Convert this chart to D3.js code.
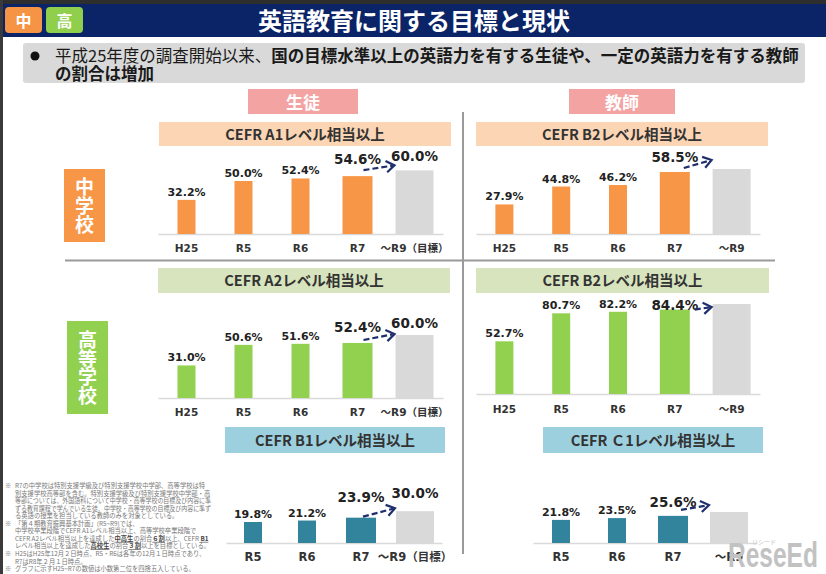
<!DOCTYPE html>
<html>
<head>
<meta charset="utf-8">
<script src="https://cdn.jsdelivr.net/npm/d3@7"></script>
<style>
  body { margin: 0; background: #fff; }
  svg { display: block; font-family: "Noto Sans CJK JP", "Noto Sans", sans-serif; }
</style>
</head>
<body>
<script>
// categories (x axis)
var jhsCats = ['H25', 'R5', 'R6', 'R7', '～R9（目標）'];
var teacherCats = ['H25', 'R5', 'R6', 'R7', '～R9'];
var b1Cats = ['R5', 'R6', 'R7', '～R9（目標）'];
var c1Cats = ['R5', 'R6', 'R7', '～R9'];

// values in % (last one is the target bar, grey)
var jhsStudentA1 = [32.2, 50.0, 52.4, 54.6, 60.0];
var jhsTeacherB2 = [27.9, 44.8, 46.2, 58.5, 61.3];
var hsStudentA2 = [31.0, 50.6, 51.6, 52.4, 60.0];
var hsTeacherB2 = [52.7, 80.7, 82.2, 84.4, 90.0];
var hsStudentB1 = [19.8, 21.2, 23.9, 30.0];
var hsTeacherC1 = [21.8, 23.5, 25.6, 29.2];

var titles = ['CEFR A1レベル相当以上', 'CEFR B2レベル相当以上', 'CEFR A2レベル相当以上',
  'CEFR B2レベル相当以上', 'CEFR B1レベル相当以上', 'CEFR Ｃ1レベル相当以上'];

var notes = [
  ['※', 'R7の中学校は特別支援学級及び特別支援学校中学部、高等学校は特'],
  ['', '別支援学校高等部を含む。特別支援学級及び特別支援学校中学部・高'],
  ['', '等部については、外国語科について中学校・高等学校の目標及び内容に準'],
  ['', 'ずる教育課程で学んでいる生徒、中学校・高等学校の目標及び内容に準ず'],
  ['', 'る英語の授業を担当している教師のみを対象としている。'],
  ['※', '「第４期教育振興基本計画」(R5~R9)では、'],
  ['', '中学校卒業段階でCEFR A1レベル相当以上、高等学校卒業段階で'],
  ['', 'CEFR A2レベル相当以上を達成した[中高生]の割合[６割]以上、CEFR [B1]'],
  ['', 'レベル相当以上を達成した[高校生]の割合[３割]以上を目標としている。'],
  ['※', 'H25はH25年12月２日時点、R5・R6は各年の12月１日時点であり、'],
  ['', 'R7はR8年２月１日時点。'],
  ['※', 'グラフに示すH25~R7の数値は小数第二位を四捨五入している。']
];

var ORANGE = '#f79646', GREEN = '#92d050', TEAL = '#31849b', GREY = '#d9d9d9';
var W = 826, H = 574;

var svg = d3.select('body').append('svg')
  .attr('width', W)
  .attr('height', H);

svg.append('rect').attr('width', W).attr('height', H).attr('fill', '#fff');

// header
svg.append('rect').attr('x', 0).attr('y', 0).attr('width', W).attr('height', 5).attr('fill', '#2e2e2e');
svg.append('rect').attr('x', 0).attr('y', 4).attr('width', W).attr('height', 33).attr('fill', '#0b2467');
svg.append('rect').attr('x', 0).attr('y', 0).attr('width', 3).attr('height', H).attr('fill', '#3a3a3a');

[['中', 5, '#f59445'], ['高', 46, '#8fcf4c']].forEach(function(b) {
  svg.append('rect').attr('x', b[1]).attr('y', 7).attr('width', 37).attr('height', 26)
    .attr('rx', 4).attr('fill', b[2]);
  svg.append('text').attr('x', b[1] + 18.5).attr('y', 27)
    .attr('text-anchor', 'middle').attr('font-size', 16).attr('font-weight', 700)
    .attr('fill', '#fff').text(b[0]);
});

svg.append('text')
  .attr('x', 414).attr('y', 30)
  .attr('text-anchor', 'middle')
  .attr('font-size', 24).attr('font-weight', 700)
  .attr('fill', '#fff')
  .text('英語教育に関する目標と現状');

// summary bullet
svg.append('rect').attr('x', 23).attr('y', 43).attr('width', 782).attr('height', 40)
  .attr('rx', 3).attr('fill', '#d9d9d9');
svg.append('circle').attr('cx', 35).attr('cy', 56).attr('r', 4.5).attr('fill', '#111');
var summary = svg.append('text').attr('font-size', 16.5).attr('fill', '#1a1a1a');
summary.append('tspan').attr('x', 55).attr('y', 62).attr('font-weight', 400).text('平成25年度の調査開始以来、');
summary.append('tspan').attr('font-weight', 700).text('国の目標水準以上の英語力を有する生徒や、一定の英語力を有する教師');
summary.append('tspan').attr('x', 55).attr('y', 80).attr('font-weight', 700).text('の割合は増加');

// group labels
[['生徒', 248, 110], ['教師', 569, 106]].forEach(function(b) {
  svg.append('rect').attr('x', b[1]).attr('y', 89).attr('width', b[2]).attr('height', 25).attr('fill', '#f4a3a3');
  svg.append('text').attr('x', b[1] + b[2] / 2).attr('y', 109)
    .attr('text-anchor', 'middle').attr('font-size', 17).attr('font-weight', 700)
    .attr('fill', '#fff').text(b[0]);
});

// school labels, written vertically
[['中学校', 64, 169, 73, ORANGE], ['高等学校', 67, 321, 93, GREEN]].forEach(function(b) {
  svg.append('rect').attr('x', b[1]).attr('y', b[2]).attr('width', 41).attr('height', b[3]).attr('fill', b[4]);
  svg.append('text')
    .attr('x', b[1] + 20.5).attr('y', b[2] + b[3] / 2)
    .style('writing-mode', 'vertical-rl')
    .attr('text-anchor', 'middle')
    .attr('font-size', 19).attr('font-weight', 700)
    .attr('letter-spacing', -0.3)
    .attr('fill', '#fff')
    .text(b[0]);
});

// dividers
svg.append('line').attr('x1', 65).attr('x2', 775).attr('y1', 260.5).attr('y2', 260.5)
  .attr('stroke', '#9a9a9a').attr('stroke-width', 2);
svg.append('line').attr('x1', 463).attr('x2', 463).attr('y1', 112).attr('y2', 554)
  .attr('stroke', '#9a9a9a').attr('stroke-width', 2);

var panels = [
  { cats: jhsCats, vals: jhsStudentA1, showLast: true, color: ORANGE, band: '#fcd5b4',
    box: [159, 122, 292, 24], x: [158, 443], base: 234, k: 1.06, gap: [12, 9], pad: 11,
    arrow: [-9, -6, -5] },
  { cats: teacherCats, vals: jhsTeacherB2, showLast: false, color: ORANGE, band: '#fcd5b4',
    box: [476, 122, 292, 24], x: [476, 760], base: 234, k: 1.06, gap: [10, 9], pad: 11,
    arrow: [-6, -4, -9] },
  { cats: jhsCats, vals: hsStudentA2, showLast: true, color: GREEN, band: '#d7e4bd',
    box: [158, 268, 292, 25], x: [158, 443], base: 398, k: 1.05, gap: [11, 7], pad: 11,
    arrow: [-9, -3, -1] },
  { cats: teacherCats, vals: hsTeacherB2, showLast: false, color: GREEN, band: '#d7e4bd',
    box: [476, 268, 293, 25], x: [476, 760], base: 394, k: 1.0, gap: [0, 0], pad: 12,
    arrow: [5, 0, 3] },
  { cats: b1Cats, vals: hsStudentB1, showLast: true, color: TEAL, band: '#9dd0df',
    box: [225, 427, 220, 26], x: [226, 442], base: 543, k: 1.06, gap: [16, 13], pad: 10,
    arrow: [-13, -1, -3] },
  { cats: c1Cats, vals: hsTeacherC1, showLast: false, color: TEAL, band: '#9dd0df',
    box: [543, 427, 220, 26], x: [533, 757], base: 543, k: 1.06, gap: [9, 0], pad: 10,
    arrow: [-7, -6, -7] }
];

function barWidth(i, n) {
  if (i === n - 1) return 38;
  if (i === n - 2) return 30;
  return 18;
}

panels.forEach(function(p, pi) {
  var g = svg.append('g');
  var n = p.cats.length;

  // title band
  g.append('rect')
    .attr('x', p.box[0]).attr('y', p.box[1])
    .attr('width', p.box[2]).attr('height', p.box[3])
    .attr('fill', p.band);
  g.append('text')
    .attr('x', p.box[0] + p.box[2] / 2)
    .attr('y', p.box[1] + p.box[3] / 2 + 5.5)
    .attr('text-anchor', 'middle')
    .attr('font-size', 14.5).attr('font-weight', 700)
    .attr('fill', '#333')
    .text(titles[pi]);

  var xScale = d3.scaleBand().domain(p.cats).range(p.x);
  var yScale = d3.scaleLinear().domain([0, 100]).range([p.base, p.base - 100 * p.k]);

  var axis = d3.axisBottom(xScale).tickSize(0).tickSizeOuter(0).tickPadding(p.pad);
  var ax = g.append('g')
    .attr('transform', 'translate(0,' + p.base + ')')
    .call(axis);
  ax.select('.domain').attr('stroke', '#d9d9d9').attr('stroke-width', 1.5);
  ax.selectAll('text')
    .attr('font-family', '"DejaVu Sans", "Noto Sans CJK JP", sans-serif')
    .attr('font-size', pi >= 4 ? 11.5 : 10.5)
    .attr('font-weight', 700)
    .attr('fill', '#333');

  var cx = function(d, i) { return xScale(p.cats[i]) + xScale.bandwidth() / 2; };

  g.selectAll('rect.bar')
    .data(p.vals)
    .enter()
    .append('rect')
    .attr('class', 'bar')
    .attr('x', function(d, i) { return cx(d, i) - barWidth(i, n) / 2; })
    .attr('y', function(d) { return yScale(d); })
    .attr('width', function(d, i) { return barWidth(i, n); })
    .attr('height', function(d) { return p.base - yScale(d); })
    .attr('fill', function(d, i) { return i === n - 1 ? GREY : p.color; });

  g.selectAll('text.val')
    .data(p.vals)
    .enter()
    .filter(function(d, i) { return p.showLast || i < n - 1; })
    .append('text')
    .attr('class', 'val')
    .attr('x', function(d, i) { return cx(d, i); })
    .attr('y', function(d, i) {
      return i >= n - 2 ? yScale(d) - p.gap[i - (n - 2)] : yScale(d) - 4;
    })
    .attr('text-anchor', 'middle')
    .attr('font-family', '"DejaVu Sans", sans-serif')
    .attr('font-weight', 700)
    .attr('font-size', function(d, i) { return i >= n - 2 ? 13.5 : 11; })
    .attr('fill', '#222')
    .text(function(d) { return d3.format('.1f')(d) + '%'; });

  // dashed arrow from latest value to target
  var r7 = n - 2, r9 = n - 1;
  var x1 = cx(null, r7) + barWidth(r7, n) / 2 + p.arrow[0];
  var y1 = yScale(p.vals[r7]) + p.arrow[1];
  var x2 = cx(null, r9) - barWidth(r9, n) / 2 - 1;
  var y2 = yScale(p.vals[r9]) + p.arrow[2];
  var ang = Math.atan2(y2 - y1, x2 - x1);
  g.append('line')
    .attr('x1', x1).attr('y1', y1).attr('x2', x2 - 2 * Math.cos(ang)).attr('y2', y2 - 2 * Math.sin(ang))
    .attr('stroke', '#1f2f6e').attr('stroke-width', 2.2).attr('stroke-dasharray', '6,3');
  var hl = 10, spread = 0.6;
  g.append('path')
    .attr('d', 'M' + (x2 - hl * Math.cos(ang - spread)) + ',' + (y2 - hl * Math.sin(ang - spread)) +
      'L' + x2 + ',' + y2 +
      'L' + (x2 - hl * Math.cos(ang + spread)) + ',' + (y2 - hl * Math.sin(ang + spread)))
    .attr('fill', 'none').attr('stroke', '#1f2f6e').attr('stroke-width', 2.2)
    .attr('stroke-linejoin', 'miter');
});

// footnotes: one text block, one tspan per line
var noteText = svg.append('text').attr('font-size', 6.3).attr('fill', '#777');
notes.forEach(function(nt, i) {
  var y = 488 + i * 7.55;
  if (nt[0]) {
    noteText.append('tspan').attr('x', 5).attr('y', y).text(nt[0]);
  }
  var t = noteText.append('tspan').attr('x', 15).attr('y', y);
  nt[1].split(/(\[[^\]]+\])/).forEach(function(seg) {
    if (!seg) return;
    if (seg.charAt(0) === '[') {
      t.append('tspan').attr('font-weight', 700).attr('fill', '#444')
        .attr('text-decoration', 'underline').text(seg.slice(1, -1));
    } else {
      t.append('tspan').text(seg);
    }
  });
  var len = t.node().getComputedTextLength();
  if (len > 196) {
    t.attr('textLength', 196).attr('lengthAdjust', 'spacingAndGlyphs');
  }
});

// watermark (stretched vertically, natural width kept)
svg.append('text')
  .attr('x', 752).attr('y', 544)
  .attr('font-size', 6).attr('fill', '#c4c4c4')
  .text('リシード');
svg.append('g')
  .attr('transform', 'translate(728,567) scale(1,1.4)')
  .append('text')
  .attr('x', 0).attr('y', 0)
  .attr('font-family', '"Liberation Sans", sans-serif')
  .attr('font-size', 24.5).attr('font-weight', 700)
  .attr('fill', '#c2c2c2')
  .text('ReseEd');
</script>
</body>
</html>
